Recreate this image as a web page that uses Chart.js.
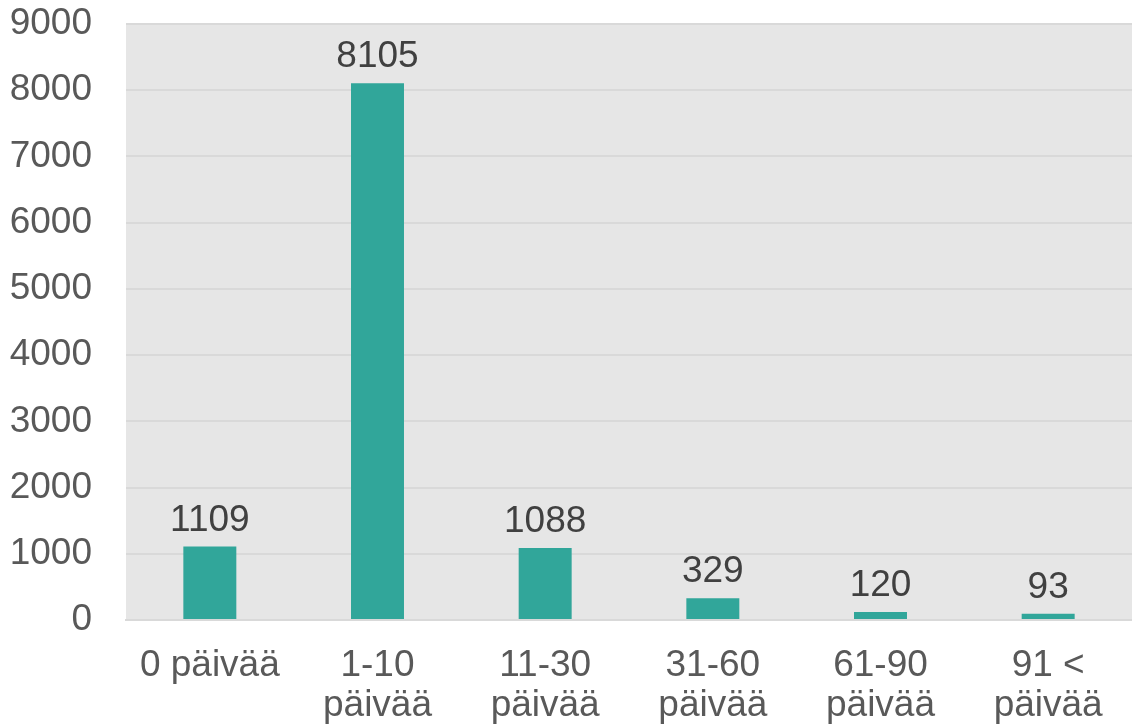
<!DOCTYPE html>
<html>
<head>
<meta charset="utf-8">
<script src="https://cdn.jsdelivr.net/npm/chart.js@4/dist/chart.umd.min.js"></script>
<style>
  html, body { margin: 0; padding: 0; background: #ffffff; }
  #wrap { width: 1132px; height: 726px; }
</style>
</head>
<body>
<div id="wrap"><canvas id="barChart"></canvas></div>
<script>
/*
==================================
    Data
==================================
*/
var categories = [['0 päivää'], ['1-10', 'päivää'], ['11-30', 'päivää'], ['31-60', 'päivää'], ['61-90', 'päivää'], ['91 <', 'päivää']];
var values = [1109, 8105, 1088, 329, 120, 93];
var yTicks = [0, 1000, 2000, 3000, 4000, 5000, 6000, 7000, 8000, 9000];

var fontFamily = "'Liberation Sans', Arial, sans-serif";

/*
==================================
    Plot background + value labels
==================================
*/
var plotBackground = {
    id: 'plotBackground',
    beforeDraw: function(chart) {
        var a = chart.chartArea;
        var c = chart.ctx;
        c.save();
        c.fillStyle = '#e6e6e6';
        c.fillRect(a.left, a.top, a.right - a.left, a.bottom - a.top);
        c.restore();
    }
};

var valueLabels = {
    id: 'valueLabels',
    afterDatasetsDraw: function(chart) {
        var c = chart.ctx;
        var meta = chart.getDatasetMeta(0);
        c.save();
        c.font = '37px ' + fontFamily;
        c.fillStyle = '#404040';
        c.textAlign = 'center';
        c.textBaseline = 'alphabetic';
        meta.data.forEach(function(bar, i) {
            c.fillText(values[i], bar.x, bar.y - 16);
        });
        c.restore();
    }
};

function noPad(axis) {
    axis.paddingTop = 0;
    axis.paddingBottom = 0;
    axis.paddingLeft = 0;
    axis.paddingRight = 0;
}

var ctx = document.getElementById('barChart');
var barChart = new Chart(ctx, {
    type: 'bar',
    data: {
        labels: categories,
        datasets: [{
            data: values,
            backgroundColor: '#31a69a',
            borderWidth: 0,
            categoryPercentage: 1,
            barPercentage: 0.316
        }]
    },
    options: {
        responsive: true,
        maintainAspectRatio: false,
        animation: false,
        layout: { padding: { top: 24, left: 0, right: 0, bottom: 0 } },
        plugins: {
            legend: { display: false },
            tooltip: { enabled: false }
        },
        scales: {
            x: {
                grid: { display: false, drawTicks: false },
                border: { display: true, color: '#d9d9d9', width: 2 },
                ticks: {
                    color: '#595959',
                    font: { family: fontFamily, size: 37, lineHeight: 1.1 },
                    padding: 25,
                    maxRotation: 0,
                    autoSkip: false
                },
                afterFit: function(axis) { axis.height = 106; noPad(axis); }
            },
            y: {
                min: 0,
                max: 9000,
                afterBuildTicks: function(axis) {
                    axis.ticks = yTicks.map(function(v) { return { value: v }; });
                },
                grid: { color: '#d9d9d9', lineWidth: 2, drawTicks: false },
                border: { display: false },
                ticks: {
                    color: '#595959',
                    font: { family: fontFamily, size: 37 },
                    padding: 34,
                    callback: function(v) { return String(v); }
                },
                afterFit: function(axis) { axis.width = 126; noPad(axis); }
            }
        }
    },
    plugins: [plotBackground, valueLabels]
});
</script>
</body>
</html>
